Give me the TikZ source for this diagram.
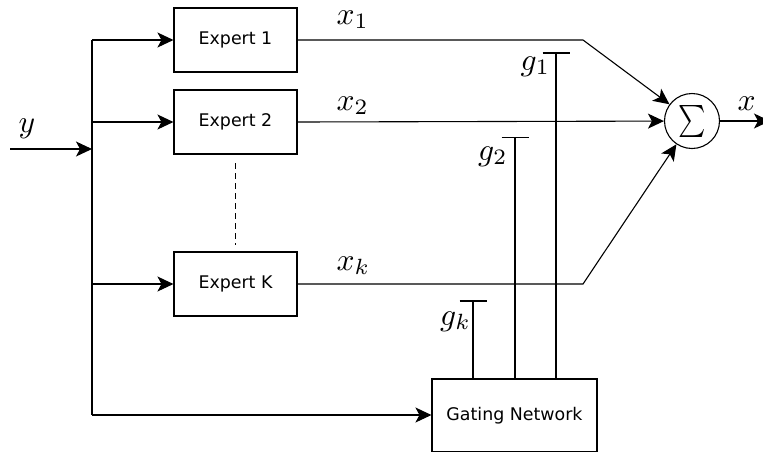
\documentclass[tikz,border=0pt]{standalone}
\usepackage{fontspec}
\setmainfont{DejaVu Sans}
\usetikzlibrary{arrows.meta}
\begin{document}
\begin{tikzpicture}[x=1pt,y=-1pt, line width=1.1pt,
  arr/.style={-{Stealth[length=16pt,width=15pt,inset=4pt]}},
  expert/.style={draw, minimum width=123pt, minimum height=64pt, inner sep=0pt, font=\fontsize{17.4}{20}\selectfont},
  lbl/.style={inner sep=0pt, anchor=base west, scale=3.15},
  tick/.style={line width=1.1pt}]
\useasboundingbox (0,0) rectangle (763,451);
\node[expert] (e1) at (235.5,40) {Expert 1};
\node[expert] (e2) at (235.5,122) {Expert 2};
\node[expert] (ek) at (235.5,284) {Expert K};
\node[expert, minimum width=165pt, minimum height=73pt] (gate) at (514.5,415.5) {Gating Network};
\node[draw, circle, minimum size=55pt, inner sep=0pt] (sum) at (692,121) {};
\node[xscale=2.6, yscale=3.2, inner sep=0pt] (sig) at (sum.center) {$\sum$};
\coordinate (b1) at (92,40);
\coordinate (b2) at (92,122);
\coordinate (bk) at (92,284);
\coordinate (bb) at (92,415);
\coordinate (in) at (10,149);
\coordinate (yj) at (92,149);
\coordinate (d1) at (235.5,163);
\coordinate (d2) at (235.5,245);
\coordinate (k1) at (583,40);
\coordinate (kk) at (583,284);
\coordinate (out) at (770,121);
\coordinate (t1) at (556,53);
\coordinate (t2) at (515,137.5);
\coordinate (tk) at (473,301);
\draw (b1) -- (bb);
\draw[arr] (b1) -- (e1.west);
\draw[arr] (b2) -- (e2.west);
\draw[arr] (bk) -- (ek.west);
\draw[arr] (bb) -- (bb -| gate.west);
\draw[arr] (in) -- (yj);
\draw[dash pattern=on 6pt off 4pt] (d1) -- (d2);
\draw[arr] (e1.east) -- (k1) -- (sum);
\draw[arr] (e2.east) -- (sum);
\draw[arr] (ek.east) -- (kk) -- (sum);
\draw[arr] (sum) -- (out);
\draw (gate.north -| t1) -- (t1);
\draw (gate.north -| t2) -- (t2);
\draw (gate.north -| tk) -- (tk);
\draw[tick] ([xshift=-13.5pt]t1) -- ([xshift=13.5pt]t1);
\draw[tick] ([xshift=-13.5pt]t2) -- ([xshift=13.5pt]t2);
\draw[tick] ([xshift=-13.5pt]tk) -- ([xshift=13.5pt]tk);
\node[lbl] (lx1) at (335,24) {$x_1$};
\node[lbl] (lx2) at (335,110) {$x_2$};
\node[lbl] (lxk) at (335,270) {$x_k$};
\node[lbl] (ly) at (17,132) {$y$};
\node[lbl] (lx) at (736,110.5) {$x$};
\node[lbl] (lg1) at (519,70) {$g_1$};
\node[lbl] (lg2) at (476.5,160) {$g_2$};
\node[lbl] (lgk) at (438.5,325) {$g_k$};
\end{tikzpicture}
\end{document}
